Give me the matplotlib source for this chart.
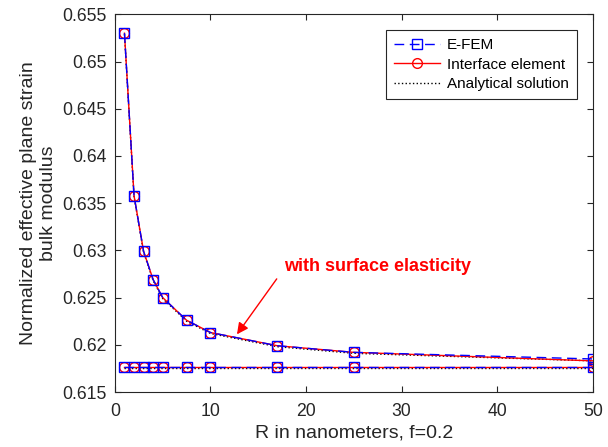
import matplotlib
matplotlib.use('Agg')
import matplotlib.pyplot as plt
import numpy as np

plt.rcParams['font.family'] = ['Liberation Sans', 'DejaVu Sans']

# R in nanometers
r_nm = [1, 2, 3, 4, 5, 7.5, 10, 17, 25, 50]

# with surface elasticity
efem_surf = [0.6530, 0.6358, 0.6299, 0.6269, 0.6250, 0.6226, 0.6213, 0.6199, 0.6192, 0.6185]
intf_surf = [0.6530, 0.6358, 0.6299, 0.6269, 0.6250, 0.6226, 0.6213, 0.6199, 0.6192, 0.6183]
anal_surf = [0.6529, 0.6357, 0.6298, 0.6268, 0.6249, 0.6225, 0.6212, 0.6198, 0.6191, 0.6183]

# without surface elasticity
efem_bulk = [0.6176] * 10
intf_bulk = [0.6176] * 10
anal_bulk = [0.61755] * 10

fig = plt.figure(figsize=(6.08, 4.47), dpi=100)
ax = fig.add_axes([0.189, 0.123, 0.786, 0.845])

# analytical (dotted black)
ax.plot(r_nm, anal_surf, ':', color='k', lw=1.0, label='Analytical solution')
ax.plot(r_nm, anal_bulk, ':', color='k', lw=1.0)
# interface element (red solid, circles)
ax.plot(r_nm, intf_surf, '-', color='r', lw=1.0, marker='o', ms=7,
        mfc='none', mec='r', mew=1.0, label='Interface element')
ax.plot(r_nm, intf_bulk, '-', color='r', lw=1.0, marker='o', ms=7,
        mfc='none', mec='r', mew=1.0)
# E-FEM (blue dashed, squares)
ax.plot(r_nm, efem_surf, '--', color='b', lw=1.0, dashes=(7, 4), marker='s', ms=6.5,
        mfc='none', mec='b', mew=1.0, label='E-FEM')
ax.plot(r_nm, efem_bulk, '--', color='b', lw=1.0, dashes=(7, 4), marker='s', ms=6.5,
        mfc='none', mec='b', mew=1.0)

ax.set_xlim(0, 50)
ax.set_ylim(0.615, 0.655)
ax.set_xticks(np.arange(0, 51, 10))
ax.set_yticks(np.arange(0.615, 0.6551, 0.005))
ax.set_yticklabels(['0.615', '0.62', '0.625', '0.63', '0.635', '0.64', '0.645', '0.65', '0.655'])
ax.tick_params(direction='in', labelsize=12.7, color='#262626', labelcolor='#262626',
               top=True, right=True, length=4)
ax.tick_params(axis='x', pad=8)
ax.tick_params(axis='y', pad=6)
for s in ax.spines.values():
    s.set_color('#262626')
    s.set_linewidth(0.8)

ax.set_xlabel('R in nanometers, f=0.2', fontsize=14, color='#262626', labelpad=3)
ax.set_ylabel('Normalized effective plane strain\nbulk modulus', fontsize=14,
              color='#262626', labelpad=4)

ax.annotate('', xy=(12.6, 0.62087), xytext=(17.1, 0.62722),
            arrowprops=dict(arrowstyle='-|>', color='r', lw=1.0, mutation_scale=17))
ax.text(27.5, 0.62834, 'with surface elasticity', color='r', fontsize=13,
        fontweight='bold', ha='center', va='center')

handles, labels = ax.get_legend_handles_labels()
order = [2, 1, 0]
leg = ax.legend([handles[i] for i in order], [labels[i] for i in order],
                loc='upper right', bbox_to_anchor=(0.967, 0.959), borderaxespad=0,
                fontsize=11, fancybox=False, edgecolor='#262626', framealpha=1,
                handlelength=3.0, borderpad=0.55, labelspacing=0.35,
                handletextpad=0.45)
leg.get_frame().set_linewidth(0.8)

fig.savefig('out.png', dpi=100)
